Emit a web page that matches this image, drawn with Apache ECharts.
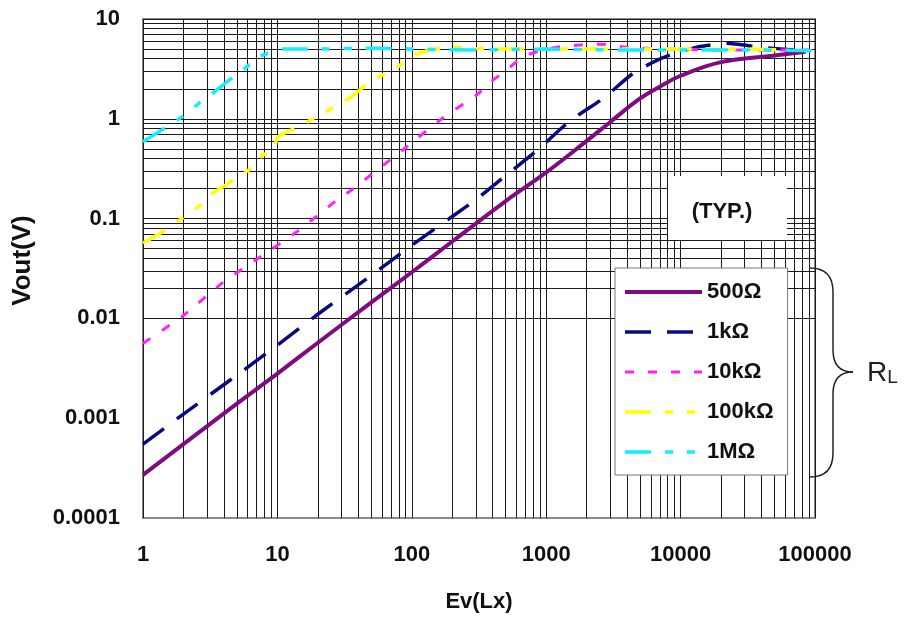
<!DOCTYPE html>
<html>
<head>
<meta charset="utf-8">
<title>Vout vs Ev</title>
<script src="https://cdn.jsdelivr.net/npm/echarts@6/dist/echarts.min.js"></script>
<style>
  html, body { margin: 0; padding: 0; background: #fff; }
  #chart { width: 904px; height: 618px; }
</style>
</head>
<body>
<div id="chart"></div>
<script>
// tick labels
const xTickLabels = ['1', '10', '100', '1000', '10000', '100000']
const yTickLabels = ['0.0001', '0.001', '0.01', '0.1', '1', '10']

// RL = 500 ohm
const ev500 = [1, 2, 5, 10, 20, 50, 100, 200, 500, 1000, 2000, 3000, 5000, 7000, 10000, 20000, 50000, 85000]
const vout500 = [0.00027, 0.00055, 0.0014, 0.0028, 0.0057, 0.0145, 0.029, 0.059, 0.15, 0.29, 0.6, 0.93, 1.6, 2.1, 2.7, 3.7, 4.3, 4.7]

// RL = 1k ohm
const ev1k = [1, 2, 5, 10, 20, 50, 100, 200, 300, 500, 850, 1500, 2650, 4500, 7400, 13000, 22000, 40000, 70000]
const vout1k = [0.00055, 0.0011, 0.0027, 0.0054, 0.011, 0.027, 0.054, 0.105, 0.155, 0.27, 0.48, 0.95, 1.6, 2.9, 4.1, 5.2, 5.7, 5.2, 4.9]

// RL = 10k ohm
const ev10k = [1, 2, 3.9, 7, 14, 28, 35, 86, 170, 305, 380, 510, 675, 1000, 1500, 2500, 4000, 8000, 20000, 50000, 90000]
const vout10k = [0.0056, 0.0107, 0.0227, 0.039, 0.074, 0.155, 0.19, 0.49, 1.02, 1.74, 2.3, 3.1, 4.2, 5.0, 5.4, 5.6, 5.2, 5.0, 4.9, 4.9, 4.9]

// RL = 100k ohm
const ev100k = [1, 1.4, 1.9, 2.75, 3.3, 4.2, 7, 7.7, 9.3, 10.1, 14, 19.7, 26, 35, 49, 78, 102, 137, 200, 400, 1000, 3000, 10000, 30000, 60000]
const vout100k = [0.057, 0.074, 0.098, 0.14, 0.18, 0.22, 0.35, 0.43, 0.48, 0.66, 0.82, 1.05, 1.3, 1.64, 2.35, 3.3, 4.3, 4.9, 5.2, 5.0, 5.0, 5.0, 5.0, 5.0, 4.9]

// RL = 1M ohm
const ev1M = [1, 1.4, 1.9, 2.65, 3.4, 4.4, 5.9, 7, 9.3, 11, 20, 50, 100, 300, 1000, 3000, 10000, 30000, 100000]
const vout1M = [0.59, 0.78, 1.02, 1.45, 1.86, 2.45, 3.3, 4.1, 4.7, 5.0, 5.0, 5.1, 5.0, 4.9, 5.0, 4.9, 4.9, 4.9, 4.8]

const seriesNames = ['500Ω', '1kΩ', '10kΩ', '100kΩ', '1MΩ']

const FONT = '"Liberation Sans", Arial, sans-serif'

const zip = (xs, ys) => xs.map((x, i) => [x, ys[i]])

// log grid: 1..9 in every decade
const gridMultipliers = [1, 2, 3, 4, 5, 6, 7, 8, 9]
const decadeLines = (fromExp, toExp) => {
  const out = []
  for (let e = fromExp; e < toExp; e++) {
    gridMultipliers.forEach(m => out.push(+(m * Math.pow(10, e)).toPrecision(6)))
  }
  out.push(Math.pow(10, toExp))
  return out
}
const xGrid = decadeLines(0, 5)
const yGrid = decadeLines(-4, 1)

const chart = echarts.init(document.getElementById('chart'))

const lineSeries = (name, data, color, width, dash, smooth) => ({
  name,
  type: 'line',
  data,
  z: 10,
  symbol: 'none',
  showSymbol: false,
  smooth,
  silent: true,
  lineStyle: { color, width, type: dash, cap: 'butt' },
  itemStyle: { color }
})

const s500 = lineSeries(seriesNames[0], zip(ev500, vout500), '#800a80', 4, 'solid', 0.4)
s500.markLine = {
  silent: true,
  symbol: ['none', 'none'],
  animation: false,
  label: { show: false },
  emphasis: { disabled: true },
  lineStyle: { color: '#1a1a1a', width: 1, type: 'solid' },
  data: [
    ...xGrid.map(v => ({ xAxis: v })),
    ...yGrid.map(v => ({ yAxis: v }))
  ]
}

// brace pieces
const braceStyle = { stroke: '#222', lineWidth: 1.5, fill: 'none' }
const brace = [
  { type: 'bezierCurve', shape: { x1: 810, y1: 268, cpx1: 833, cpy1: 268, x2: 833, y2: 292 } },
  { type: 'line', shape: { x1: 833, y1: 292, x2: 833, y2: 350 } },
  { type: 'bezierCurve', shape: { x1: 833, y1: 350, cpx1: 833, cpy1: 372, x2: 853, y2: 372 } },
  { type: 'bezierCurve', shape: { x1: 853, y1: 372, cpx1: 833, cpy1: 372, x2: 833, y2: 394 } },
  { type: 'line', shape: { x1: 833, y1: 394, x2: 833, y2: 453 } },
  { type: 'bezierCurve', shape: { x1: 833, y1: 453, cpx1: 833, cpy1: 477, x2: 810, y2: 477 } }
].map(el => Object.assign(el, { z: 100, silent: true, style: braceStyle }))

chart.setOption({
  animation: false,
  backgroundColor: '#fff',
  grid: {
    left: 143,
    top: 19,
    right: 89,
    bottom: 100,
    show: true,
    borderColor: '#8a8a8a',
    borderWidth: 2
  },
  legend: {
    orient: 'vertical',
    left: 615,
    top: 268,
    z: 100,
    data: seriesNames,
    itemWidth: 77,
    itemHeight: 14,
    itemGap: 18,
    padding: [13, 14, 12, 8],
    backgroundColor: '#fff',
    borderColor: '#777',
    borderWidth: 1,
    selectedMode: false,
    itemStyle: { opacity: 0 },
    lineStyle: { width: 'inherit' },
    textStyle: { fontFamily: FONT, fontSize: 22, fontWeight: 'bold', color: '#111' }
  },
  xAxis: {
    type: 'log',
    logBase: 10,
    min: 1,
    max: 100000,
    name: 'Ev(Lx)',
    nameLocation: 'middle',
    nameGap: 73,
    nameTextStyle: { fontFamily: FONT, fontSize: 22, fontWeight: 'bold', color: '#111' },
    axisLine: { lineStyle: { color: '#8a8a8a', width: 2 } },
    axisTick: { show: false },
    splitLine: { show: false },
    axisLabel: {
      margin: 26,
      fontFamily: FONT,
      fontSize: 22,
      fontWeight: 'bold',
      color: '#111',
      formatter: v => xTickLabels[Math.round(Math.log10(v))]
    }
  },
  yAxis: {
    type: 'log',
    logBase: 10,
    min: 0.0001,
    max: 10,
    name: 'Vout(V)',
    nameLocation: 'middle',
    nameGap: 107,
    nameTextStyle: { fontFamily: FONT, fontSize: 26, fontWeight: 'bold', color: '#111', padding: [0, 0, 0, 16] },
    axisLine: { lineStyle: { color: '#8a8a8a', width: 2 } },
    axisTick: { show: false },
    splitLine: { show: false },
    axisLabel: {
      margin: 23,
      fontFamily: FONT,
      fontSize: 22,
      fontWeight: 'bold',
      color: '#111',
      formatter: v => yTickLabels[Math.round(Math.log10(v)) + 4]
    }
  },
  graphic: [
    // (TYP.) box
    {
      type: 'rect',
      z: 100,
      silent: true,
      shape: { x: 668, y: 176, width: 119, height: 64 },
      style: { fill: '#fff' }
    },
    {
      type: 'text',
      z: 101,
      silent: true,
      x: 722,
      y: 212,
      style: {
        text: '(TYP.)',
        fontFamily: FONT,
        fontSize: 22,
        fontWeight: 'bold',
        fill: '#111',
        align: 'center',
        verticalAlign: 'middle'
      }
    },
    ...brace,
    {
      type: 'text',
      z: 100,
      silent: true,
      x: 867,
      y: 373,
      style: {
        text: '{r|R}{l|L}',
        verticalAlign: 'middle',
        rich: {
          r: { fontFamily: FONT, fontSize: 28, fill: '#222', verticalAlign: 'bottom' },
          l: { fontFamily: FONT, fontSize: 19, fill: '#222', verticalAlign: 'bottom' }
        }
      }
    }
  ],
  series: [
    s500,
    lineSeries(seriesNames[1], zip(ev1k, vout1k), '#0a0a80', 3.5, [26, 16], 0.2),
    lineSeries(seriesNames[2], zip(ev10k, vout10k), '#ff22ff', 3, [9, 14], 0.2),
    lineSeries(seriesNames[3], zip(ev100k, vout100k), '#ffff00', 3.5, [26, 14, 8, 14, 8, 14], 0.2),
    lineSeries(seriesNames[4], zip(ev1M, vout1M), '#11eeff', 3.5, [26, 14, 8, 14, 8, 14], 0.2)
  ]
})

window.addEventListener('resize', () => chart.resize())
</script>
</body>
</html>
